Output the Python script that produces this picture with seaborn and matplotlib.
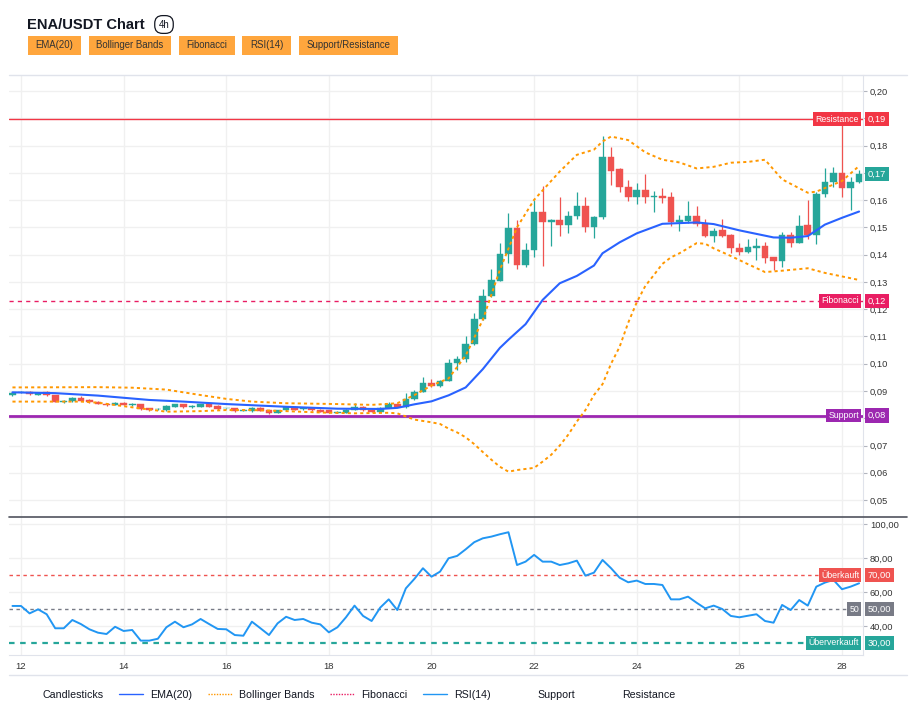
import matplotlib
matplotlib.use("Agg")
import numpy as np
import pandas as pd
import matplotlib.pyplot as plt
import matplotlib.dates as mdates
from matplotlib.lines import Line2D
from matplotlib.patches import Rectangle
from matplotlib.ticker import FuncFormatter, MultipleLocator, FixedLocator
import seaborn as sns

# 4h candles, first one at 20:00 on the 11th
START = "2024-11-11 20:00"

opens = [0.0884, 0.0895, 0.0897, 0.0885, 0.0895, 0.0885, 0.0861, 0.0863, 0.0873, 0.0868,
         0.0861, 0.0853, 0.0849, 0.0856, 0.0849, 0.0852, 0.0836, 0.0833, 0.0830, 0.0843,
         0.0851, 0.0840, 0.0843, 0.0851, 0.0846, 0.0836, 0.0836, 0.0827, 0.0826, 0.0838,
         0.0830, 0.0820, 0.0830, 0.0842, 0.0834, 0.0838, 0.0832, 0.0830, 0.0821, 0.0821,
         0.0832, 0.0842, 0.0832, 0.0824, 0.0838, 0.0851, 0.0840, 0.0870, 0.0897, 0.0931,
         0.0917, 0.0937, 0.1002, 0.1017, 0.1071, 0.1163, 0.1248, 0.1305, 0.1403, 0.1497,
         0.1362, 0.1416, 0.1555, 0.1519, 0.1528, 0.1510, 0.1543, 0.1580, 0.1503, 0.1538,
         0.1758, 0.1713, 0.1647, 0.1611, 0.1637, 0.1612, 0.1615, 0.1610, 0.1521, 0.1524,
         0.1543, 0.1512, 0.1470, 0.1491, 0.1472, 0.1423, 0.1411, 0.1423, 0.1433, 0.1390,
         0.1378, 0.1472, 0.1444, 0.1509, 0.1472, 0.1621, 0.1665, 0.1698, 0.1643, 0.1665]
closes = [0.0891, 0.0897, 0.0888, 0.0894, 0.0884, 0.0861, 0.0865, 0.0875, 0.0864, 0.0858,
          0.0853, 0.0849, 0.0856, 0.0849, 0.0853, 0.0833, 0.0832, 0.0835, 0.0845, 0.0851,
          0.0840, 0.0846, 0.0851, 0.0843, 0.0834, 0.0837, 0.0826, 0.0830, 0.0838, 0.0827,
          0.0818, 0.0830, 0.0840, 0.0832, 0.0836, 0.0830, 0.0824, 0.0821, 0.0824, 0.0832,
          0.0842, 0.0830, 0.0824, 0.0838, 0.0851, 0.0842, 0.0871, 0.0898, 0.0931, 0.0917,
          0.0937, 0.1002, 0.1018, 0.1073, 0.1164, 0.1248, 0.1307, 0.1403, 0.1497, 0.1362,
          0.1417, 0.1555, 0.1518, 0.1528, 0.1507, 0.1543, 0.1580, 0.1503, 0.1538, 0.1758,
          0.1707, 0.1649, 0.1611, 0.1638, 0.1613, 0.1615, 0.1608, 0.1521, 0.1527, 0.1543,
          0.1512, 0.1469, 0.1488, 0.1470, 0.1424, 0.1411, 0.1429, 0.1431, 0.1389, 0.1378,
          0.1472, 0.1442, 0.1505, 0.1472, 0.1621, 0.1665, 0.1698, 0.1643, 0.1665, 0.1696]
highs = [0.0898, 0.0899, 0.0900, 0.0896, 0.0900, 0.0887, 0.0867, 0.0877, 0.0880, 0.0870,
         0.0863, 0.0855, 0.0858, 0.0859, 0.0856, 0.0854, 0.0837, 0.0837, 0.0847, 0.0854,
         0.0854, 0.0848, 0.0853, 0.0853, 0.0848, 0.0839, 0.0838, 0.0832, 0.0840, 0.0840,
         0.0832, 0.0832, 0.0842, 0.0844, 0.0840, 0.0840, 0.0834, 0.0832, 0.0827, 0.0834,
         0.0855, 0.0845, 0.0834, 0.0842, 0.0861, 0.0853, 0.0893, 0.0903, 0.0950, 0.0943,
         0.0940, 0.1017, 0.1029, 0.1102, 0.1185, 0.1273, 0.1346, 0.1444, 0.1552, 0.1527,
         0.1442, 0.1601, 0.1653, 0.1530, 0.1610, 0.1560, 0.1629, 0.1610, 0.1540, 0.1835,
         0.1796, 0.1716, 0.1674, 0.1662, 0.1696, 0.1634, 0.1643, 0.1628, 0.1546, 0.1597,
         0.1580, 0.1531, 0.1497, 0.1531, 0.1476, 0.1441, 0.1456, 0.1460, 0.1448, 0.1393,
         0.1484, 0.1484, 0.1545, 0.1600, 0.1631, 0.1716, 0.1723, 0.1900, 0.1684, 0.1710]
lows = [0.0883, 0.0893, 0.0885, 0.0884, 0.0882, 0.0860, 0.0857, 0.0861, 0.0862, 0.0855,
        0.0851, 0.0845, 0.0847, 0.0847, 0.0846, 0.0831, 0.0826, 0.0831, 0.0828, 0.0841,
        0.0838, 0.0836, 0.0841, 0.0841, 0.0832, 0.0834, 0.0824, 0.0825, 0.0824, 0.0825,
        0.0816, 0.0818, 0.0828, 0.0830, 0.0830, 0.0828, 0.0822, 0.0819, 0.0818, 0.0819,
        0.0830, 0.0828, 0.0822, 0.0822, 0.0836, 0.0840, 0.0838, 0.0868, 0.0895, 0.0915,
        0.0915, 0.0935, 0.0978, 0.1005, 0.1069, 0.1161, 0.1246, 0.1303, 0.1369, 0.1347,
        0.1356, 0.1393, 0.1360, 0.1432, 0.1470, 0.1481, 0.1531, 0.1482, 0.1460, 0.1531,
        0.1656, 0.1628, 0.1595, 0.1585, 0.1588, 0.1558, 0.1588, 0.1505, 0.1487, 0.1515,
        0.1505, 0.1466, 0.1448, 0.1466, 0.1405, 0.1399, 0.1405, 0.1380, 0.1371, 0.1344,
        0.1356, 0.1427, 0.1442, 0.1456, 0.1439, 0.1610, 0.1647, 0.1613, 0.1564, 0.1662]

# indicator readings at candle indices
ema_idx = [0, 5, 10, 16, 20, 25, 32, 38, 43, 45, 47, 49, 51, 53, 55, 57, 58, 60, 62, 64,
           66, 68, 69, 71, 73, 76, 80, 82, 85, 89, 91, 93, 95, 97, 99]
ema_val = [0.0895, 0.0892, 0.0883, 0.0867, 0.0861, 0.0852, 0.0842, 0.0835, 0.0834, 0.0838,
           0.0851, 0.0862, 0.0884, 0.0913, 0.0980, 0.1058, 0.1088, 0.1145, 0.1234, 0.1295,
           0.1322, 0.1360, 0.1405, 0.1445, 0.1478, 0.1513, 0.1518, 0.1512, 0.1489, 0.1463,
           0.1462, 0.1468, 0.1510, 0.1535, 0.1558]
bb_up_idx = [0, 10, 14, 18, 22, 25, 28, 32, 38, 42, 45, 47, 49, 51, 53, 55, 57, 59, 61, 64,
             66, 68, 69, 70, 72, 74, 76, 78, 80, 82, 84, 86, 88, 90, 93, 94, 97, 99]
bb_up_val = [0.0913, 0.0914, 0.0912, 0.0905, 0.0885, 0.0871, 0.0861, 0.0855, 0.0852, 0.0849,
             0.0855, 0.0885, 0.0920, 0.0946, 0.1030, 0.1161, 0.1344, 0.1500, 0.1601, 0.1705,
             0.1766, 0.1785, 0.1815, 0.1833, 0.1820, 0.1775, 0.1748, 0.1738, 0.1716, 0.1722,
             0.1737, 0.1740, 0.1748, 0.1676, 0.1627, 0.1631, 0.1670, 0.1725]
bb_lo_idx = [0, 8, 10, 14, 18, 22, 25, 28, 32, 36, 40, 44, 45, 47, 49, 50, 51, 52, 53, 54,
             55, 56, 57, 58, 59, 61, 62, 63, 64, 65, 66, 67, 68, 69, 70, 71, 72, 73, 74, 75,
             76, 77, 78, 80, 81, 82, 84, 86, 88, 90, 93, 95, 99]
bb_lo_val = [0.0861, 0.0861, 0.0857, 0.0840, 0.0824, 0.0826, 0.0830, 0.0830, 0.0826, 0.0821,
             0.0818, 0.0820, 0.0818, 0.0795, 0.0785, 0.0779, 0.0762, 0.0748, 0.0730, 0.0705,
             0.0676, 0.0648, 0.0622, 0.0604, 0.0610, 0.0618, 0.0641, 0.0666, 0.0700, 0.0740,
             0.0788, 0.0830, 0.0885, 0.0925, 0.1000, 0.1062, 0.1150, 0.1225, 0.1285, 0.1325,
             0.1366, 0.1390, 0.1405, 0.1442, 0.1440, 0.1423, 0.1395, 0.1365, 0.1336, 0.1341,
             0.1350, 0.1333, 0.1307]
rsi = [51.8, 51.8, 47.4, 49.8, 46.9, 38.6, 38.6, 43.5, 41.1, 38.0,
       36.0, 35.2, 39.5, 37.0, 37.6, 31.3, 31.3, 32.4, 39.2, 42.5,
       39.2, 40.9, 44.1, 41.1, 38.2, 38.0, 34.6, 34.2, 42.5, 38.6,
       34.6, 41.5, 45.4, 43.5, 44.1, 41.9, 40.9, 36.2, 39.2, 45.1,
       52.0, 45.9, 42.9, 50.8, 55.7, 49.4, 62.2, 67.8, 74.1, 69.1,
       72.1, 80.0, 81.4, 85.3, 89.5, 91.8, 92.8, 94.2, 95.4, 76.0,
       78.0, 82.0, 78.0, 78.0, 76.0, 77.0, 78.6, 69.7, 71.5, 79.0,
       74.1, 68.5, 65.8, 66.8, 64.8, 64.8, 64.2, 55.7, 55.7, 57.3,
       53.7, 50.4, 52.0, 50.0, 45.9, 45.1, 46.0, 46.9, 42.9, 41.9,
       52.4, 49.4, 55.3, 52.0, 63.2, 65.6, 67.2, 61.7, 63.2, 65.2]

RESISTANCE = 0.1897
FIBONACCI = 0.123
SUPPORT = 0.081
RSI_LEVELS = [70, 50, 30]

GREEN, RED = "#26A69A", "#EF5350"
W, H = 917, 712


def fx(px):
    return px / W


def fy(py):
    return 1 - py / H


def comma(v, _=None):
    return f"{v:.2f}".replace(".", ",")


# price labels that sit under a coloured value tag are left blank
covered = [RESISTANCE, closes[-1], SUPPORT]


def price_fmt(v, _=None):
    if any(abs(v - cv) < 0.0025 for cv in covered):
        return ""
    return comma(v)


sns.set_style("white")
plt.rcParams["font.family"] = ["Liberation Sans", "DejaVu Sans"]

times = pd.date_range(START, periods=len(closes), freq="4h")
xs = mdates.date2num(times)
o, c, h, l = map(np.array, (opens, closes, highs, lows))

fig = plt.figure(figsize=(W / 100, H / 100), dpi=100)
ax = fig.add_axes([fx(9), fy(517), fx(854), 442 / H])
ax2 = fig.add_axes([fx(9), fy(655), fx(854), 138 / H], sharex=ax)

# candles
cols = np.where(c >= o, GREEN, RED)
ax.vlines(xs, l, h, colors=cols, lw=0.9, zorder=2)
ax.bar(xs, np.maximum(np.abs(c - o), 0.00025), bottom=np.minimum(o, c), width=0.13,
       color=cols, edgecolor=cols, lw=0.3, zorder=2)

# indicators
sns.lineplot(x=xs[bb_up_idx], y=bb_up_val, ax=ax, color="#FF9800", lw=1.4,
             linestyle=(0, (1.6, 1.6)), zorder=4)
sns.lineplot(x=xs[bb_lo_idx], y=bb_lo_val, ax=ax, color="#FF9800", lw=1.4,
             linestyle=(0, (1.6, 1.6)), zorder=4)
sns.lineplot(x=xs[ema_idx], y=ema_val, ax=ax, color="#2962FF", lw=1.5, zorder=4)

ax.axhline(RESISTANCE, color="#F23645", lw=1, zorder=3)
ax.axhline(FIBONACCI, color="#E91E63", lw=1, linestyle=(0, (3, 3)), zorder=3)
ax.axhline(SUPPORT, color="#9C27B0", lw=2, zorder=3)

sns.lineplot(x=xs, y=rsi, ax=ax2, color="#2196F3", lw=1.4, zorder=4)
for lev, col, lw in zip(RSI_LEVELS, ["#EF5350", "#787B86", "#26A69A"], [1, 1, 1.6]):
    ax2.axhline(lev, color=col, lw=lw, linestyle=(0, (2.5, 2.5)), zorder=3)

# axes styling
ax.set_xlim(mdates.date2num(pd.Timestamp("2024-11-11 18:23")),
            mdates.date2num(pd.Timestamp("2024-11-28 09:50")))
ax.set_ylim(0.04378, 0.20587)
ax2.set_ylim(22.8, 104.4)
ax.yaxis.set_major_locator(MultipleLocator(0.01))
ax2.yaxis.set_major_locator(FixedLocator([40, 60, 80, 100]))
ax.xaxis.set_major_locator(mdates.DayLocator(bymonthday=range(12, 29, 2)))
ax.xaxis.set_major_formatter(mdates.DateFormatter("%d"))
for a in (ax, ax2):
    a.yaxis.tick_right()
    a.grid(True, color="#F0F0F0", lw=1)
    a.set_axisbelow(True)
    for s in ("left", "top", "bottom"):
        a.spines[s].set_visible(False)
    a.spines["right"].set_color("#E0E3EB")
    a.tick_params(axis="y", length=3, color="#B2B5BE", labelsize=6.7,
                  labelcolor="#333333", pad=2)
    a.set_xlabel("")
    a.set_ylabel("")
ax.yaxis.set_major_formatter(FuncFormatter(price_fmt))
ax2.yaxis.set_major_formatter(FuncFormatter(comma))
ax2.spines["bottom"].set_visible(True)
ax2.spines["bottom"].set_color("#E0E3EB")
ax.tick_params(axis="x", labelbottom=False, length=0)
ax2.tick_params(axis="x", length=3, color="#E0E3EB", labelsize=6.8,
                labelcolor="#333333", pad=2)


def tag(a, y, text, color, left):
    if left:
        a.annotate(text, xy=(1, y), xycoords=("axes fraction", "data"), xytext=(-4, 0),
                   textcoords="offset pixels", ha="right", va="center", fontsize=6.3,
                   color="white", zorder=6,
                   bbox=dict(boxstyle="square,pad=0.25", fc=color, ec="none"))
    else:
        a.annotate(text, xy=(1, y), xycoords=("axes fraction", "data"), xytext=(5, 0),
                   textcoords="offset pixels", ha="left", va="center", fontsize=6.7,
                   color="white", zorder=6, annotation_clip=False,
                   bbox=dict(boxstyle="square,pad=0.3", fc=color, ec="none"))


tag(ax, RESISTANCE, "Resistance", "#F23645", True)
tag(ax, RESISTANCE, comma(RESISTANCE), "#F23645", False)
tag(ax, FIBONACCI, "Fibonacci", "#E91E63", True)
tag(ax, FIBONACCI, comma(FIBONACCI), "#E91E63", False)
tag(ax, SUPPORT, "Support", "#9C27B0", True)
tag(ax, SUPPORT, comma(SUPPORT), "#9C27B0", False)
tag(ax, closes[-1], comma(closes[-1]), GREEN, False)
for lev, name, col in zip(RSI_LEVELS, ["Überkauft", "50", "Überverkauft"],
                          ["#EF5350", "#787B86", "#26A69A"]):
    tag(ax2, lev, name, col, True)
    tag(ax2, lev, comma(lev), col, False)

# frame lines
fig.add_artist(Line2D([fx(9), fx(907)], [fy(75)] * 2, color="#E0E3EB", lw=1))
fig.add_artist(Line2D([fx(9), fx(907)], [fy(517)] * 2, color="#50535E", lw=1.2))
fig.add_artist(Line2D([fx(9), fx(907)], [fy(675)] * 2, color="#E0E3EB", lw=1))

# header
fig.text(fx(27), fy(25), "ENA/USDT Chart", fontsize=10.6, fontweight="bold",
         color="#131722", ha="left", va="center")
fig.text(fx(164), fy(24.5), "4h", fontsize=7, ha="center", va="center", color="#131722",
         bbox=dict(boxstyle="round,pad=0.4,rounding_size=0.8", fc="white",
                   ec="#131722", lw=0.9))
buttons = [("EMA(20)", 28, 81), ("Bollinger Bands", 89, 171), ("Fibonacci", 179, 235),
           ("RSI(14)", 242, 291), ("Support/Resistance", 299, 398)]
for name, x0, x1 in buttons:
    fig.add_artist(Rectangle((fx(x0), fy(55)), fx(x1 - x0), 19 / H,
                             transform=fig.transFigure, fc="#FFA63D", ec="none"))
    fig.text(fx((x0 + x1) / 2), fy(45.5), name, fontsize=6.9, color="#333333",
             ha="center", va="center")

# legend
handles = [Line2D([], [], color="none"),
           Line2D([], [], color="#2962FF", lw=1),
           Line2D([], [], color="#FF9800", lw=1, linestyle=(0, (1, 1))),
           Line2D([], [], color="#E91E63", lw=1, linestyle=(0, (1, 1))),
           Line2D([], [], color="#2196F3", lw=1),
           Line2D([], [], color="none"),
           Line2D([], [], color="none")]
labels = ["Candlesticks", "EMA(20)", "Bollinger Bands", "Fibonacci", "RSI(14)",
          "Support", "Resistance"]
fig.legend(handles, labels, loc="center left", bbox_to_anchor=(fx(11), fy(695)),
           ncol=7, frameon=False, fontsize=7.7, handlelength=2.25, handletextpad=0.65,
           columnspacing=1.47, borderpad=0, borderaxespad=0, labelcolor="#131722")

fig.savefig("out.png", dpi=100)
